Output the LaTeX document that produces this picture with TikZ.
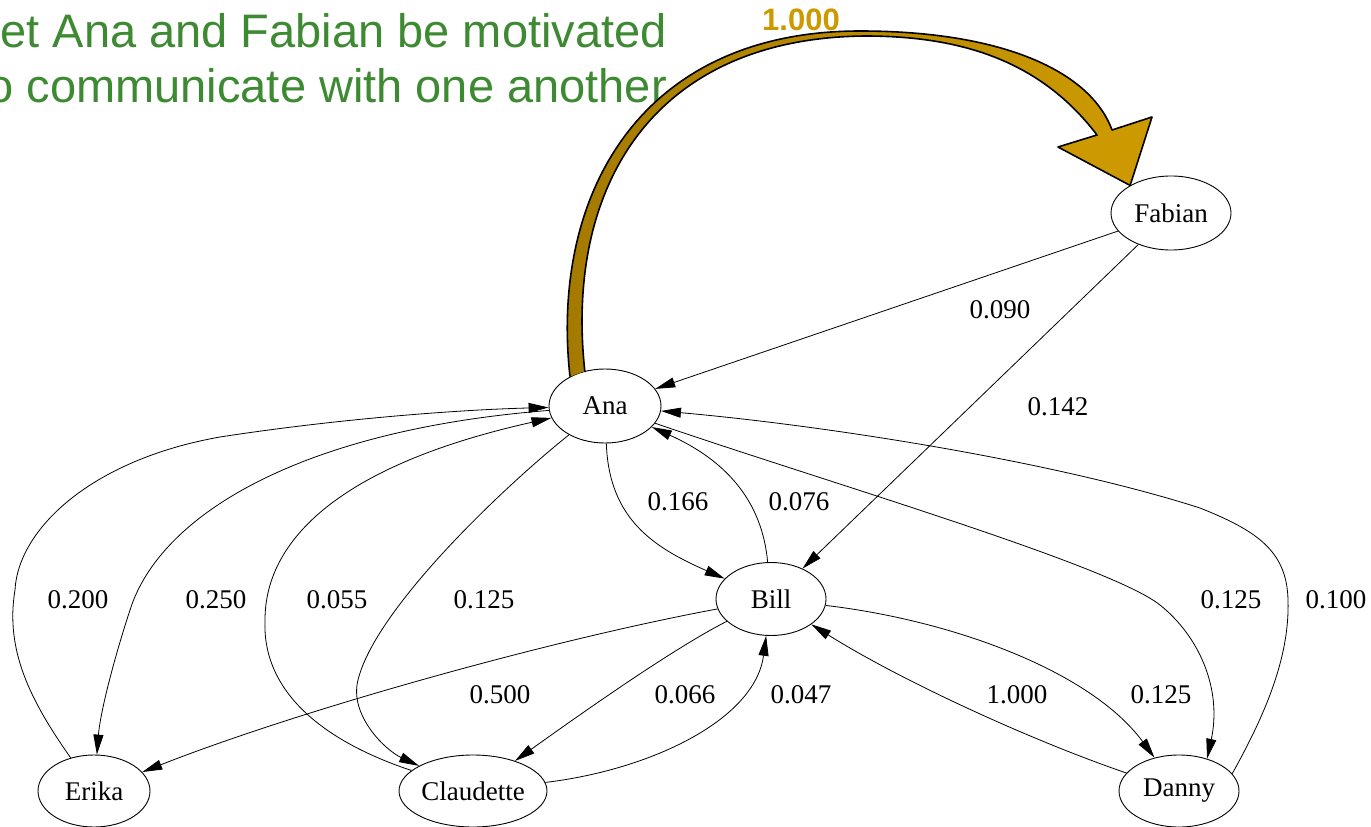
\documentclass[tikz,border=0pt]{standalone}
\usepackage{fontspec}
\usetikzlibrary{arrows.meta,shapes.geometric}
\newfontfamily\gvfont{Liberation Serif}
\newfontfamily\slidefont{Liberation Sans}
\definecolor{slidegreen}{RGB}{61,138,51}
\definecolor{arrowgold}{RGB}{204,153,0}
\definecolor{arrowdark}{RGB}{163,121,0}

\tikzset{
  person/.style={ellipse,draw=black,line width=0.9pt,inner sep=0pt,font=\gvfont\fontsize{27}{30}\selectfont},
  link/.style={black,line width=0.8pt,-{Triangle[length=20pt,width=10pt]}},
  lbl/.style={font=\gvfont\fontsize{27}{30}\selectfont,inner sep=0pt},
  slide/.style={anchor=base east,inner sep=0pt,text=slidegreen,font=\slidefont\fontsize{47}{52}\selectfont}
}

\begin{document}
\begin{tikzpicture}[x=1pt,y=-1pt]
\useasboundingbox (0,0) rectangle (1371,827);

\node[slide] (line1) at (667,47) {et Ana and Fabian be motivated};
\node[slide] (line2) at (667,102) {o communicate with one another};

\node[person,minimum width=120pt,minimum height=74pt] (fabian) at (1171,213) {Fabian};
\node[person,minimum width=112pt,minimum height=74pt] (ana) at (605,406) {Ana};
\node[person,minimum width=110pt,minimum height=73pt] (bill) at (771,599) {Bill};
\node[person,minimum width=112pt,minimum height=72pt] (erika) at (94,791) {Erika};
\node[person,minimum width=148pt,minimum height=72pt] (claudette) at (473,791) {Claudette};
\node[person,minimum width=120pt,minimum height=72pt] (danny) at (1179,791) {Danny};

\draw[link] (fabian) -- (ana) node[lbl] at (1000,310) {0.090};
\draw[link] (fabian) -- (bill) node[lbl] at (1058,407) {0.142};

\draw[link] (ana) .. controls (609,520) and (655,548) .. (bill) node[lbl] at (678,502) {0.166};
\draw[link] (bill) .. controls (762,500) and (725,460) .. (ana) node[lbl] at (799,502) {0.076};

\draw[link] (erika) .. controls (30,700) and (5,650) .. (15,590) .. controls (18,530) and (90,460) .. (220,437) .. controls (330,420) and (450,410) .. (ana) node[lbl] at (78,600) {0.200};
\draw[link] (ana) .. controls (300,430) and (160,515) .. (130,610) .. controls (112,665) and (100,715) .. (erika) node[lbl] at (216,600) {0.250};
\draw[link] (claudette) .. controls (320,740) and (262,690) .. (265,620) .. controls (265,540) and (340,465) .. (ana) node[lbl] at (337,600) {0.055};
\draw[link] (ana) .. controls (500,490) and (375,610) .. (358,680) .. controls (349,715) and (385,750) .. (claudette) node[lbl] at (484,600) {0.125};

\draw[link] (bill) .. controls (550,640) and (300,710) .. (erika) node[lbl] at (500,695) {0.500};
\draw[link] (bill) .. controls (680,645) and (600,700) .. (claudette) node[lbl] at (685,695) {0.066};
\draw[link] (claudette) .. controls (650,770) and (755,720) .. (bill) node[lbl] at (801,695) {0.047};
\draw[link] (danny) .. controls (1030,740) and (900,680) .. (bill) node[lbl] at (1017,695) {1.000};
\draw[link] (bill) .. controls (950,620) and (1090,670) .. (danny) node[lbl] at (1161,695) {0.125};

\draw[link] (ana) .. controls (820,480) and (1110,565) .. (1160,605) .. controls (1200,637) and (1222,690) .. (danny.49) node[lbl] at (1231,600) {0.125};
\draw[link] (danny.18) .. controls (1262,720) and (1290,660) .. (1288,600) .. controls (1287,550) and (1255,530) .. (1200,508) .. controls (1050,460) and (820,425) .. (ana) node[lbl] at (1336,600) {0.100};

\coordinate (bigtip) at (fabian.146);
\shade[left color=arrowdark,right color=arrowgold] (ana.140) .. controls (550,195) and (640,31) .. (860,31) .. controls (1000,31) and (1090,70) .. (1112,130) -- (1097,135) .. controls (1040,60) and (960,36) .. (865,36) .. controls (650,38) and (565,190) .. (ana.120) -- cycle;
\fill[arrowgold] (1058,147) -- (1152,117) -- (bigtip) -- cycle;
\draw[line width=1.6pt,line join=round] (ana.140) .. controls (550,195) and (640,31) .. (860,31) .. controls (1000,31) and (1090,70) .. (1112,130) -- (1152,117) -- (bigtip) -- (1058,147) -- (1097,135) .. controls (1040,60) and (960,36) .. (865,36) .. controls (650,38) and (565,190) .. (ana.120);
\node[text=arrowgold,font=\slidefont\bfseries\fontsize{31}{34}\selectfont] (biglbl) at (801,20) {1.000};

\end{tikzpicture}
\end{document}
